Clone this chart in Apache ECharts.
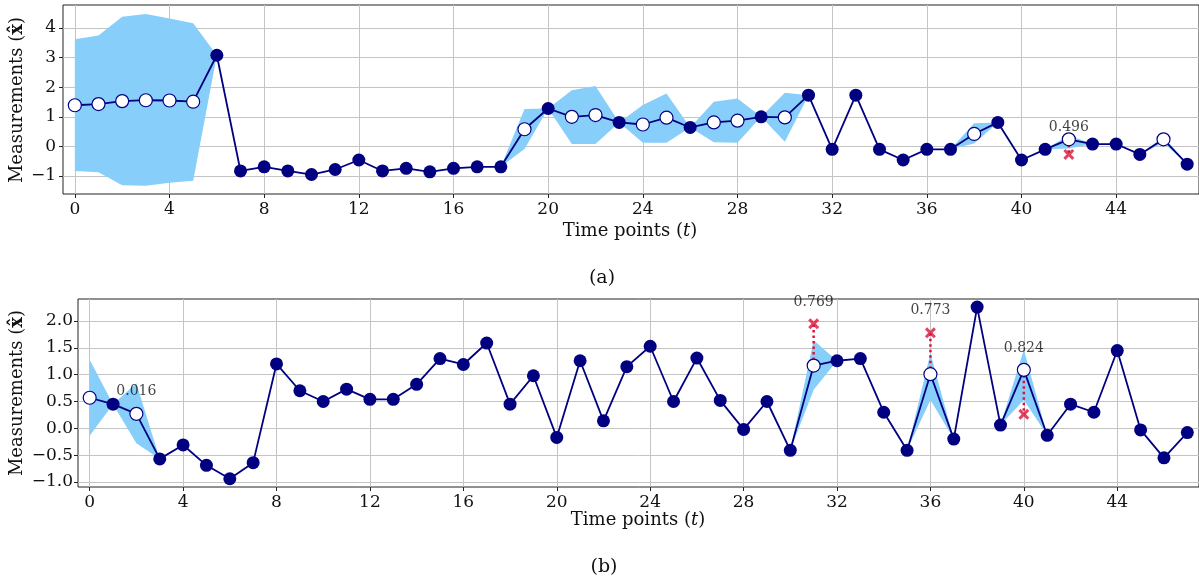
<!DOCTYPE html>
<html>
<head>
<meta charset="utf-8">
<script src="https://cdn.jsdelivr.net/npm/echarts@6/dist/echarts.min.js"></script>
<style>
html,body{margin:0;padding:0;background:#fff;}
#chart{width:1199px;height:582px;}
</style>
</head>
<body>
<div id="chart"></div>
<script>
// ---------- data ----------
const T = [0,1,2,3,4,5,6,7,8,9,10,11,12,13,14,15,16,17,18,19,20,21,22,23,24,25,26,27,28,29,30,31,32,33,34,35,36,37,38,39,40,41,42,43,44,45,46,47];
const xTicks = [0,4,8,12,16,20,24,28,32,36,40,44];

// panel (a)
const valuesA = [1.39,1.43,1.53,1.56,1.55,1.51,3.08,-0.83,-0.69,-0.83,-0.95,-0.78,-0.46,-0.83,-0.74,-0.86,-0.74,-0.69,-0.69,0.58,1.28,1.00,1.06,0.81,0.74,0.97,0.64,0.81,0.87,1.00,0.98,1.73,-0.10,1.73,-0.10,-0.46,-0.10,-0.10,0.42,0.81,-0.46,-0.10,0.24,0.08,0.08,-0.27,0.24,-0.60];
const imputedA = [0,1,2,3,4,5,19,21,22,24,25,27,28,30,38,42,46];
const bandIdxA = [0,1,2,3,4,5,19,21,22,24,25,27,28,30,38,42,46];
const bandUpA  = [3.62,3.75,4.38,4.47,4.32,4.16,1.26,1.90,2.04,1.40,1.79,1.51,1.62,1.81,0.78,0.38,0.33];
const bandLoA  = [-0.83,-0.87,-1.31,-1.33,-1.23,-1.16,-0.09,0.08,0.08,0.12,0.12,0.14,0.12,0.16,0.10,-0.07,0.12];
const truthIdxA = [42];
const truthValA = [-0.27];
const noteIdxA = [42];
const noteYA = [0.66];
const noteTextA = ['0.496'];
const yTicksA = [-1,0,1,2,3,4];

// panel (b)
const valuesB = [0.57,0.45,0.27,-0.57,-0.31,-0.69,-0.94,-0.64,1.20,0.70,0.50,0.73,0.54,0.54,0.82,1.30,1.19,1.59,0.45,0.98,-0.17,1.26,0.14,1.15,1.53,0.50,1.31,0.52,-0.02,0.50,-0.41,1.17,1.26,1.30,0.30,-0.41,1.01,-0.20,2.26,0.06,1.09,-0.13,0.45,0.30,1.45,-0.03,-0.55,-0.08];
const imputedB = [0,2,31,36,40];
const bandIdxB = [0,2,31,36,40];
const bandUpB  = [1.28,0.84,1.64,1.40,1.47];
const bandLoB  = [-0.14,-0.28,0.72,0.53,0.53];
const truthIdxB = [2,31,36,40];
const truthValB = [0.25,1.95,1.78,0.26];
const noteIdxB = [2,31,36,40];
const noteYB = [0.69,2.35,2.20,1.50];
const noteTextB = ['0.016','0.769','0.773','0.824'];
const yTicksB = [-1,-0.5,0,0.5,1,1.5,2];

// ---------- styles ----------
const NAVY = '#000080';
const BAND = '#87CEFA';
const RED = '#DC143C';
const FONT = 'DejaVu Serif';
const TXT = '#111111';
const XPATH = 'path://M2,0 L5,3 L8,0 L10,2 L7,5 L10,8 L8,10 L5,7 L2,10 L0,8 L3,5 L0,2 Z';

function fmtA(v){ return (v < 0 ? '\u2212' : '') + Math.abs(v); }
function fmtB(v){ return (v < 0 ? '\u2212' : '') + Math.abs(v).toFixed(1); }

function bandSeries(gi, vals, idx, up, lo){
  const u = vals.slice(), l = vals.slice();
  idx.forEach((k, j) => { u[k] = up[j]; l[k] = lo[j]; });
  const data = vals.map((v, i) => [T[i], u[i], l[i]]);
  return {
    type: 'custom', xAxisIndex: gi, yAxisIndex: gi, z: 1, silent: true,
    encode: { x: 0, y: [1, 2] }, data: data,
    renderItem: function(params, api){
      if (params.dataIndex !== 0) return null;
      const pts = [];
      for (let i = 0; i < data.length; i++) pts.push(api.coord([data[i][0], data[i][1]]));
      for (let i = data.length - 1; i >= 0; i--) pts.push(api.coord([data[i][0], data[i][2]]));
      return { type: 'polygon', shape: { points: pts }, style: { fill: BAND } };
    }
  };
}

function dottedSeries(gi, vals, idx, tv){
  const data = idx.map((k, j) => [T[k], vals[k], tv[j]]);
  return {
    type: 'custom', xAxisIndex: gi, yAxisIndex: gi, z: 2, silent: true,
    encode: { x: 0, y: [1, 2] }, data: data,
    renderItem: function(params, api){
      const a = api.coord([api.value(0), api.value(1)]);
      const b = api.coord([api.value(0), api.value(2)]);
      return { type: 'line', shape: { x1: a[0], y1: a[1], x2: b[0], y2: b[1] },
        style: { stroke: RED, lineWidth: 2.5, lineDash: [2.5, 3] } };
    }
  };
}

function truthSeries(gi, idx, tv){
  return {
    type: 'scatter', xAxisIndex: gi, yAxisIndex: gi, z: 3, silent: true,
    symbol: XPATH, symbolSize: 11, itemStyle: { color: RED },
    data: idx.map((k, j) => [T[k], tv[j]])
  };
}

function lineSeries(gi, vals, imp){
  return {
    type: 'line', xAxisIndex: gi, yAxisIndex: gi, z: 4, silent: true,
    symbol: 'circle', symbolSize: 13, showAllSymbol: true,
    lineStyle: { color: NAVY, width: 1.8 },
    itemStyle: { color: NAVY },
    emphasis: { disabled: true },
    data: vals.map((v, i) => ({
      value: [T[i], v],
      itemStyle: imp.indexOf(i) >= 0
        ? { color: '#ffffff', borderColor: NAVY, borderWidth: 1.2 }
        : { color: NAVY, borderWidth: 0 }
    }))
  };
}

function noteSeries(gi, idx, ys, texts){
  return {
    type: 'scatter', xAxisIndex: gi, yAxisIndex: gi, z: 5, silent: true,
    symbolSize: 1, itemStyle: { color: 'rgba(0,0,0,0)' },
    label: { show: true, position: 'inside', formatter: '{b}', color: TXT, fontSize: 14, fontFamily: FONT },
    data: idx.map((k, j) => ({ value: [T[k], ys[j]], name: texts[j] }))
  };
}

function xAxis(gi){
  return {
    gridIndex: gi, type: 'value', min: -0.5, max: 47.5,
    axisLine: { show: false, onZero: false },
    axisTick: { show: true, customValues: xTicks, length: 4, lineStyle: { color: '#222', width: 1 } },
    axisLabel: { customValues: xTicks, fontSize: 17, fontFamily: FONT, color: TXT, margin: 7 },
    splitLine: { show: true, lineStyle: { color: '#c4c4c4', width: 1 } }
  };
}
function yAxis(gi, min, max, ticks, fmt, margin){
  return {
    gridIndex: gi, type: 'value', min: min, max: max,
    axisLine: { show: false, onZero: false },
    axisTick: { show: true, customValues: ticks, length: 4, lineStyle: { color: '#222', width: 1 } },
    axisLabel: { customValues: ticks, fontSize: 17, fontFamily: FONT, color: TXT, margin: margin, formatter: fmt },
    splitLine: { show: true, lineStyle: { color: '#c4c4c4', width: 1 } }
  };
}

function txt(x, y, text, size, rot, rich){
  return {
    type: 'text', x: x, y: y, rotation: rot || 0, silent: true,
    style: {
      text: text, fontSize: size, fontFamily: FONT, fill: TXT,
      align: 'center', verticalAlign: 'middle',
      textAlign: 'center', textVerticalAlign: 'middle',
      rich: rich || {}
    }
  };
}
const richY = { b: { fontWeight: 'bold', fontSize: 18, fontFamily: FONT, fill: TXT, color: TXT } };
const richX = { i: { fontStyle: 'italic', fontSize: 18, fontFamily: FONT, fill: TXT, color: TXT } };

const chart = echarts.init(document.getElementById('chart'), null, { renderer: 'canvas' });
chart.setOption({
  animation: false,
  backgroundColor: '#ffffff',
  grid: [
    { left: 63, top: 5, width: 1137, height: 189, show: true, borderColor: '#222', borderWidth: 1, backgroundColor: 'transparent' },
    { left: 78, top: 299, width: 1122, height: 188, show: true, borderColor: '#222', borderWidth: 1, backgroundColor: 'transparent' }
  ],
  xAxis: [xAxis(0), xAxis(1)],
  yAxis: [
    yAxis(0, -1.608, 4.777, yTicksA, fmtA, 7),
    yAxis(1, -1.094, 2.411, yTicksB, fmtB, 5)
  ],
  series: [
    bandSeries(0, valuesA, bandIdxA, bandUpA, bandLoA),
    dottedSeries(0, valuesA, truthIdxA, truthValA),
    truthSeries(0, truthIdxA, truthValA),
    lineSeries(0, valuesA, imputedA),
    noteSeries(0, noteIdxA, noteYA, noteTextA),
    bandSeries(1, valuesB, bandIdxB, bandUpB, bandLoB),
    dottedSeries(1, valuesB, truthIdxB, truthValB),
    truthSeries(1, truthIdxB, truthValB),
    lineSeries(1, valuesB, imputedB),
    noteSeries(1, noteIdxB, noteYB, noteTextB)
  ],
  graphic: [
    txt(17.5, 100, 'Measurements ({b|x\u0302})', 18, Math.PI / 2, richY),
    txt(17.5, 393, 'Measurements ({b|x\u0302})', 18, Math.PI / 2, richY),
    txt(630, 231.5, 'Time points ({i|t})', 18, 0, richX),
    txt(638, 520, 'Time points ({i|t})', 18, 0, richX),
    txt(602, 278, '(a)', 19, 0),
    txt(604, 567, '(b)', 19, 0)
  ]
});
</script>
</body>
</html>
